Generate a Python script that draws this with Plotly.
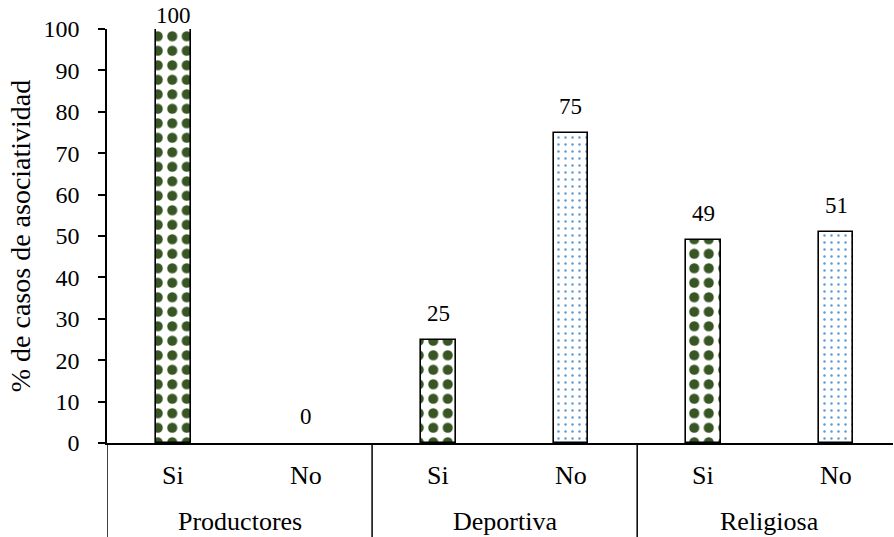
import plotly.graph_objects as go

groups = ["Productores", "Deportiva", "Religiosa"]
answers = ["Si", "No", "Si", "No", "Si", "No"]
values = [100, 0, 25, 75, 49, 51]
yticks = [0, 10, 20, 30, 40, 50, 60, 70, 80, 90, 100]

FONT = "Liberation Serif"
GREEN = "#375623"
BLUE = "#5b9bd5"

xs = list(range(len(values)))
si_x = [x for x, a in zip(xs, answers) if a == "Si"]
si_v = [v for v, a in zip(values, answers) if a == "Si"]
no_x = [x for x, a in zip(xs, answers) if a == "No"]
no_v = [v for v, a in zip(values, answers) if a == "No"]

fig = go.Figure()
fig.add_trace(go.Bar(
    x=si_x, y=si_v, width=0.26,
    marker=dict(color="white",
                line=dict(color="black", width=[1.6 if v > 0 else 0 for v in si_v]),
                pattern=dict(shape=".", fgcolor=GREEN, bgcolor="white", fgopacity=1,
                             size=14.5, solidity=0.38, fillmode="replace")),
    showlegend=False, hoverinfo="skip"))
fig.add_trace(go.Bar(
    x=no_x, y=no_v, width=0.26,
    marker=dict(color="white",
                line=dict(color="black", width=[1.6 if v > 0 else 0 for v in no_v]),
                pattern=dict(shape=".", fgcolor=BLUE, bgcolor="white", fgopacity=1,
                             size=7, solidity=0.1, fillmode="replace")),
    showlegend=False, hoverinfo="skip"))

ann = []
for x, v in zip(xs, values):
    ann.append(dict(x=x, y=v, xref="x", yref="y", text=str(v), showarrow=False,
                    yanchor="bottom", yshift=(-1 if v >= 100 else 12),
                    font=dict(family=FONT, size=23, color="black")))
for x, a in zip(xs, answers):
    ann.append(dict(x=x, y=0, xref="x", yref="paper", text=a, showarrow=False,
                    yanchor="middle", yshift=-32,
                    font=dict(family=FONT, size=26, color="black")))
for i, g in enumerate(groups):
    ann.append(dict(x=2 * i + 0.5, y=0, xref="x", yref="paper", text=g, showarrow=False,
                    yanchor="middle", yshift=-78,
                    font=dict(family=FONT, size=26, color="black")))

shapes = []
for i in range(len(groups)):
    shapes.append(dict(type="line", xref="x", yref="paper", x0=2 * i - 0.5, x1=2 * i - 0.5,
                       y0=0, y1=-0.3, line=dict(color="black", width=1.5)))

fig.update_layout(
    width=894, height=537,
    margin=dict(l=107, r=1, t=29, b=94),
    plot_bgcolor="white", paper_bgcolor="white",
    bargap=0, barmode="overlay",
    font=dict(family=FONT, color="black"),
    annotations=ann, shapes=shapes,
    xaxis=dict(range=[-0.5, 5.43], showticklabels=False, ticks="",
               showline=True, linecolor="black", linewidth=2, showgrid=False,
               zeroline=False, fixedrange=True),
    yaxis=dict(range=[0, 100], tickvals=yticks, ticks="outside", ticklen=7,
               tickwidth=1.5, tickcolor="black", showline=True, linecolor="black",
               linewidth=1.5, showgrid=False, zeroline=False, ticklabelstandoff=14,
               tickfont=dict(family=FONT, size=24, color="black"),
               title=dict(text="% de casos de asociatividad",
                          font=dict(family=FONT, size=28, color="black"), standoff=5)),
)
fig.write_html("out.html")
